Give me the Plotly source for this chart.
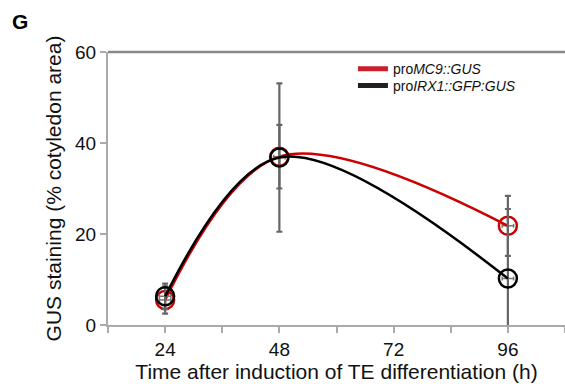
import plotly.graph_objects as go

hours = [24, 48, 96]
mc9_mean = [5.5, 37.0, 21.8]
mc9_err = [3.0, 7.0, 6.6]
irx1_mean = [6.3, 36.8, 10.2]
irx1_err = [2.8, 16.3, 15.3]
x_err = [1.2, 1.2, 1.2]

series = [
    ("pro<i>MC9::GUS</i>", mc9_mean, mc9_err, "#cc0000", "#c8202e", "legend"),
    ("pro<i>IRX1::GFP:GUS</i>", irx1_mean, irx1_err, "#000000", "#231f20", "legend2"),
]

x_ticks = [12, 24, 36, 48, 60, 72, 84, 96, 108]
x_labels = ["", "24", "", "48", "", "72", "", "96", ""]
y_ticks = [0, 20, 40, 60]

FONT = "Liberation Sans, Arial, sans-serif"
fig = go.Figure()

for name, ys, errs, col, legcol, leg in series:
    fig.add_trace(go.Scatter(
        x=hours, y=ys, mode="lines+markers", showlegend=False,
        line=dict(color=col, width=2.5, shape="spline", smoothing=1.0),
        marker=dict(symbol="circle-open", size=18, color=col, line=dict(width=2.5, color=col)),
        error_y=dict(type="data", array=errs, color="#666666", thickness=2.2, width=3),
        error_x=dict(type="data", array=x_err, color="#777777", thickness=1.5, width=2),
        cliponaxis=True,
    ))

for name, ys, errs, col, legcol, leg in series:
    fig.add_trace(go.Scatter(
        x=[None], y=[None], mode="lines", name=name, legend=leg,
        line=dict(color=legcol, width=5),
    ))

leg_common = dict(xanchor="left", yanchor="middle",
                  font=dict(size=14, family=FONT, color="#111111"),
                  bgcolor="rgba(0,0,0,0)", itemwidth=30)

fig.update_layout(
    width=565, height=384,
    margin=dict(l=108, r=0, t=52, b=59, autoexpand=False),
    paper_bgcolor="white", plot_bgcolor="white",
    font=dict(family=FONT, color="#111111"),
    showlegend=True,
    legend=dict(x=0.536, y=0.937, **leg_common),
    legend2=dict(x=0.536, y=0.876, **leg_common),
    xaxis=dict(range=[12, 108], tickmode="array", tickvals=x_ticks, ticktext=x_labels,
               ticks="outside", ticklen=6, tickwidth=2, tickcolor="#aaaaaa",
               showline=True, linecolor="#aaaaaa", linewidth=2, automargin=False,
               showgrid=False, zeroline=False,
               tickfont=dict(size=19, family=FONT, color="#111111"),
               title=dict(text="Time after induction of TE differentiation (h)",
                          font=dict(size=21, family=FONT, color="#111111"), standoff=2)),
    yaxis=dict(range=[0, 60], tickmode="array", tickvals=y_ticks,
               ticks="outside", ticklen=6, tickwidth=2, tickcolor="#aaaaaa",
               showline=True, linecolor="#aaaaaa", linewidth=2, automargin=False,
               showgrid=False, zeroline=False,
               tickfont=dict(size=19, family=FONT, color="#111111"),
               title=dict(text="GUS staining (% cotyledon area)",
                          font=dict(size=21, family=FONT, color="#111111"), standoff=8)),
    shapes=[dict(type="line", xref="paper", yref="paper", x0=0, x1=1, y0=1, y1=1,
                 line=dict(color="#888888", width=2.5))],
    annotations=[dict(text="<b>G</b>", xref="paper", yref="paper", x=-0.193, y=1.11,
                      xanchor="center", yanchor="middle", showarrow=False,
                      font=dict(size=21, family=FONT, color="#000000"))],
)

fig.write_html("out.html", config={"displayModeBar": False},
               post_script="document.body.style.margin='0';document.body.style.overflow='hidden';")
